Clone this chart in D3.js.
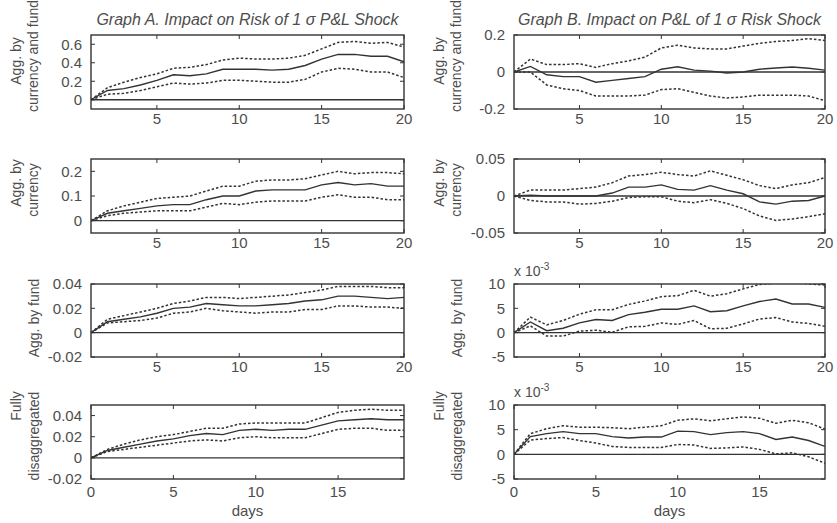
<!DOCTYPE html>
<html>
<head>
<meta charset="utf-8">
<script src="https://cdn.jsdelivr.net/npm/d3@7"></script>
<style>
body { margin: 0; background: #fff; }
text { font-family: "Liberation Sans", Arial, sans-serif; fill: #4d4d4d; }
</style>
</head>
<body>
<div id="main"></div>
<script>
// days on the x axis
var days1 = d3.range(1, 21); // rows 1-3: 1..20
var days0 = d3.range(0, 20); // row 4: 0..19

// Graph A, row 1: agg. by currency and fund
var a1Mid = [0, 0.10, 0.12, 0.16, 0.21, 0.27, 0.26, 0.28, 0.33, 0.33, 0.33, 0.32, 0.33, 0.37, 0.44, 0.49, 0.49, 0.47, 0.47, 0.41];
var a1Up  = [0, 0.13, 0.19, 0.24, 0.28, 0.34, 0.35, 0.38, 0.43, 0.45, 0.44, 0.44, 0.45, 0.48, 0.55, 0.62, 0.63, 0.61, 0.62, 0.57];
var a1Lo  = [0, 0.06, 0.07, 0.10, 0.14, 0.18, 0.17, 0.18, 0.21, 0.21, 0.20, 0.19, 0.19, 0.22, 0.30, 0.34, 0.33, 0.30, 0.30, 0.24];
// Graph B, row 1
var b1Mid = [0, 0.03, -0.015, -0.025, -0.025, -0.055, -0.045, -0.035, -0.025, 0.015, 0.028, 0.01, 0.005, -0.005, 0, 0.015, 0.022, 0.027, 0.02, 0.01];
var b1Up  = [0, 0.07, 0.04, 0.04, 0.045, 0.025, 0.045, 0.06, 0.08, 0.13, 0.145, 0.13, 0.125, 0.125, 0.14, 0.155, 0.165, 0.17, 0.18, 0.17];
var b1Lo  = [0, 0, -0.07, -0.09, -0.10, -0.13, -0.13, -0.13, -0.125, -0.095, -0.09, -0.11, -0.13, -0.14, -0.135, -0.125, -0.125, -0.125, -0.13, -0.155];
// Graph A, row 2: agg. by currency
var a2Mid = [0, 0.03, 0.04, 0.05, 0.06, 0.065, 0.065, 0.085, 0.10, 0.10, 0.12, 0.125, 0.125, 0.125, 0.145, 0.155, 0.145, 0.15, 0.14, 0.14];
var a2Up  = [0, 0.04, 0.06, 0.075, 0.09, 0.095, 0.10, 0.12, 0.14, 0.14, 0.16, 0.165, 0.165, 0.17, 0.185, 0.20, 0.19, 0.195, 0.195, 0.19];
var a2Lo  = [0, 0.02, 0.03, 0.035, 0.04, 0.04, 0.04, 0.055, 0.07, 0.065, 0.075, 0.08, 0.08, 0.08, 0.095, 0.105, 0.095, 0.095, 0.085, 0.085];
// Graph B, row 2
var b2Mid = [0, 0.001, 0, 0, 0, 0, 0.004, 0.012, 0.012, 0.015, 0.009, 0.008, 0.014, 0.008, 0.003, -0.008, -0.011, -0.007, -0.006, 0];
var b2Up  = [0, 0.008, 0.008, 0.008, 0.01, 0.012, 0.018, 0.027, 0.029, 0.032, 0.029, 0.027, 0.034, 0.028, 0.022, 0.014, 0.01, 0.015, 0.018, 0.025];
var b2Lo  = [0, -0.006, -0.008, -0.008, -0.011, -0.01, -0.007, -0.002, -0.001, -0.001, -0.007, -0.009, -0.005, -0.01, -0.017, -0.027, -0.033, -0.031, -0.028, -0.024];
// Graph A, row 3: agg. by fund
var a3Mid = [0, 0.009, 0.011, 0.013, 0.016, 0.02, 0.021, 0.024, 0.023, 0.022, 0.022, 0.023, 0.024, 0.026, 0.027, 0.03, 0.03, 0.029, 0.028, 0.029];
var a3Up  = [0, 0.011, 0.014, 0.017, 0.02, 0.024, 0.026, 0.029, 0.029, 0.028, 0.029, 0.03, 0.031, 0.033, 0.035, 0.038, 0.038, 0.038, 0.037, 0.037];
var a3Lo  = [0, 0.008, 0.009, 0.01, 0.012, 0.016, 0.017, 0.02, 0.018, 0.017, 0.016, 0.017, 0.017, 0.019, 0.019, 0.022, 0.022, 0.021, 0.021, 0.02];
// Graph B, row 3 (x 10^-3)
var b3Mid = [0, 2.2, 0.4, 0.9, 2.0, 2.7, 2.5, 3.7, 4.2, 4.8, 4.8, 5.5, 4.3, 4.5, 5.5, 6.4, 6.9, 5.9, 5.9, 5.2];
var b3Up  = [0, 3.2, 1.6, 2.5, 3.8, 4.7, 4.7, 5.8, 6.5, 7.4, 7.6, 8.7, 7.5, 8.0, 9.0, 9.9, 10.2, 10.3, 10.0, 9.8];
var b3Lo  = [0, 1.4, -0.7, -0.7, 0.3, 0.5, 0.1, 1.2, 1.3, 2.0, 1.7, 2.5, 0.8, 0.9, 1.8, 2.8, 3.1, 2.2, 1.9, 1.3];
// Graph A, row 4: fully disaggregated
var a4Mid = [0, 0.007, 0.01, 0.013, 0.016, 0.018, 0.021, 0.023, 0.022, 0.026, 0.027, 0.026, 0.027, 0.027, 0.031, 0.035, 0.036, 0.037, 0.036, 0.036];
var a4Up  = [0, 0.008, 0.013, 0.017, 0.02, 0.022, 0.025, 0.028, 0.028, 0.032, 0.033, 0.033, 0.033, 0.033, 0.038, 0.043, 0.045, 0.046, 0.045, 0.045];
var a4Lo  = [0, 0.006, 0.008, 0.01, 0.012, 0.014, 0.016, 0.017, 0.016, 0.019, 0.02, 0.019, 0.019, 0.019, 0.023, 0.027, 0.028, 0.028, 0.026, 0.026];
// Graph B, row 4 (x 10^-3)
var b4Mid = [0, 3.6, 4.2, 4.6, 4.2, 4.2, 3.6, 3.3, 3.5, 3.5, 4.7, 4.6, 4.0, 4.4, 4.6, 4.2, 3.0, 3.5, 2.8, 1.6];
var b4Up  = [0, 4.2, 5.2, 5.8, 5.5, 5.5, 5.4, 5.2, 5.5, 5.8, 6.9, 7.2, 6.8, 7.2, 7.6, 7.3, 6.3, 6.9, 6.4, 5.1];
var b4Lo  = [0, 2.9, 3.2, 3.4, 2.8, 2.3, 1.6, 1.4, 1.4, 1.4, 2.0, 1.9, 1.2, 1.3, 1.5, 1.0, 0.1, 0.3, -0.5, -1.8];

var titles = ["Graph A. Impact on Risk of 1 \u03c3  P&L Shock", "Graph B. Impact on P&L of 1 \u03c3 Risk Shock"];
var rowLabels = [["Agg. by", "currency and fund"], ["Agg. by", "currency"], ["Agg. by fund"], ["Fully", "disaggregated"]];
var xTicks1 = [5, 10, 15, 20];
var xTicks0 = [0, 5, 10, 15];

var panels = [
    { col: 0, row: 0, xs: days1, mid: a1Mid, up: a1Up, lo: a1Lo, yDom: [-0.1, 0.7], yTicks: [0, 0.2, 0.4, 0.6] },
    { col: 1, row: 0, xs: days1, mid: b1Mid, up: b1Up, lo: b1Lo, yDom: [-0.2, 0.2], yTicks: [-0.2, 0, 0.2] },
    { col: 0, row: 1, xs: days1, mid: a2Mid, up: a2Up, lo: a2Lo, yDom: [-0.05, 0.25], yTicks: [0, 0.1, 0.2] },
    { col: 1, row: 1, xs: days1, mid: b2Mid, up: b2Up, lo: b2Lo, yDom: [-0.05, 0.05], yTicks: [-0.05, 0, 0.05] },
    { col: 0, row: 2, xs: days1, mid: a3Mid, up: a3Up, lo: a3Lo, yDom: [-0.02, 0.04], yTicks: [-0.02, 0, 0.02, 0.04] },
    { col: 1, row: 2, xs: days1, mid: b3Mid, up: b3Up, lo: b3Lo, yDom: [-5, 10], yTicks: [-5, 0, 5, 10], exp: true },
    { col: 0, row: 3, xs: days0, mid: a4Mid, up: a4Up, lo: a4Lo, yDom: [-0.02, 0.05], yTicks: [-0.02, 0, 0.02, 0.04] },
    { col: 1, row: 3, xs: days0, mid: b4Mid, up: b4Up, lo: b4Lo, yDom: [-5, 10], yTicks: [-5, 0, 5, 10], exp: true },
];

// layout of the axes boxes (pixels)
var colX = [[91, 404], [514, 825]];
var rowY = [[35, 109], [159, 233], [284, 357], [405, 479]];
// ylabel line centres: [x offset from box left, y centre] per row
var labelPos = [
    [[-75, 61], [-58, 56]],
    [[-75, 183], [-58, 190]],
    [[-57, 318]],
    [[-75, 406], [-57, 436]],
];

var svg = d3.select("#main").append("svg").attr("width", 837).attr("height", 523);

panels.forEach(function (p, i) {
    var x0 = colX[p.col][0], x1 = colX[p.col][1];
    var y0 = rowY[p.row][0], y1 = rowY[p.row][1];
    var last = p.row == 3;
    var x = d3.scaleLinear().domain(last ? [0, 19] : [1, 20]).range([x0, x1]);
    var y = d3.scaleLinear().domain(p.yDom).range([y1, y0]);
    var xt = last ? xTicks0 : xTicks1;
    var g = svg.append("g");

    g.append("clipPath").attr("id", "clip" + i)
        .append("rect").attr("x", x0).attr("y", y0).attr("width", x1 - x0).attr("height", y1 - y0);

    // inward ticks on all four sides
    var tk = 4;
    g.selectAll(".xt").data(xt).enter().append("path")
        .attr("d", (d) => `M${x(d)},${y1}v${-tk}M${x(d)},${y0}v${tk}`)
        .attr("stroke", "#333").attr("stroke-width", 1);
    g.selectAll(".yt").data(p.yTicks).enter().append("path")
        .attr("d", (d) => `M${x0},${y(d)}h${tk}M${x1},${y(d)}h${-tk}`)
        .attr("stroke", "#333").attr("stroke-width", 1);

    // zero line
    g.append("line").attr("x1", x0).attr("x2", x1).attr("y1", y(0)).attr("y2", y(0))
        .attr("stroke", "#333").attr("stroke-width", 1.3);

    var line = d3.line().x((d, j) => x(p.xs[j])).y((d) => y(d));
    var lines = g.append("g").attr("clip-path", `url(#clip${i})`);
    [p.up, p.lo].forEach(function (s) {
        lines.append("path").attr("d", line(s)).attr("fill", "none")
            .attr("stroke", "#333").attr("stroke-width", 1.5).attr("stroke-dasharray", "2.5,2");
    });
    lines.append("path").attr("d", line(p.mid)).attr("fill", "none")
        .attr("stroke", "#333").attr("stroke-width", 1.4);

    // frame
    g.append("rect").attr("x", x0).attr("y", y0).attr("width", x1 - x0).attr("height", y1 - y0)
        .attr("fill", "none").attr("stroke", "#333").attr("stroke-width", 1.4);

    // tick labels
    g.selectAll(".xl").data(xt).enter().append("text")
        .attr("x", (d) => x(d)).attr("y", y1 + (last ? 18 : 15))
        .attr("text-anchor", "middle").style("font-size", "15px").text((d) => d);
    g.selectAll(".yl").data(p.yTicks).enter().append("text")
        .attr("x", x0 - 9).attr("y", (d) => y(d)).attr("dy", "0.35em")
        .attr("text-anchor", "end").style("font-size", "15px").text((d) => String(d));

    if (p.exp) {
        var ex = g.append("text").attr("x", x0).attr("y", y0 - 8).style("font-size", "14px");
        ex.append("tspan").text("x 10");
        ex.append("tspan").attr("dy", -6).style("font-size", "10px").text("-3");
    }

    // y label
    rowLabels[p.row].forEach(function (t, k) {
        var pos = labelPos[p.row][k];
        var lx = x0 + pos[0], ly = pos[1];
        g.append("text").attr("transform", `translate(${lx},${ly}) rotate(-90)`)
            .attr("text-anchor", "middle").attr("dy", "0.35em").style("font-size", "14px").text(t);
    });

    if (p.row == 0) {
        g.append("text").attr("x", (x0 + x1) / 2).attr("y", 25).attr("text-anchor", "middle")
            .style("font-size", "16px").style("font-style", "italic").text(titles[p.col]);
    }
    if (last) {
        g.append("text").attr("x", (x0 + x1) / 2).attr("y", 516).attr("text-anchor", "middle")
            .style("font-size", "15px").text("days");
    }
});
</script>
</body>
</html>
